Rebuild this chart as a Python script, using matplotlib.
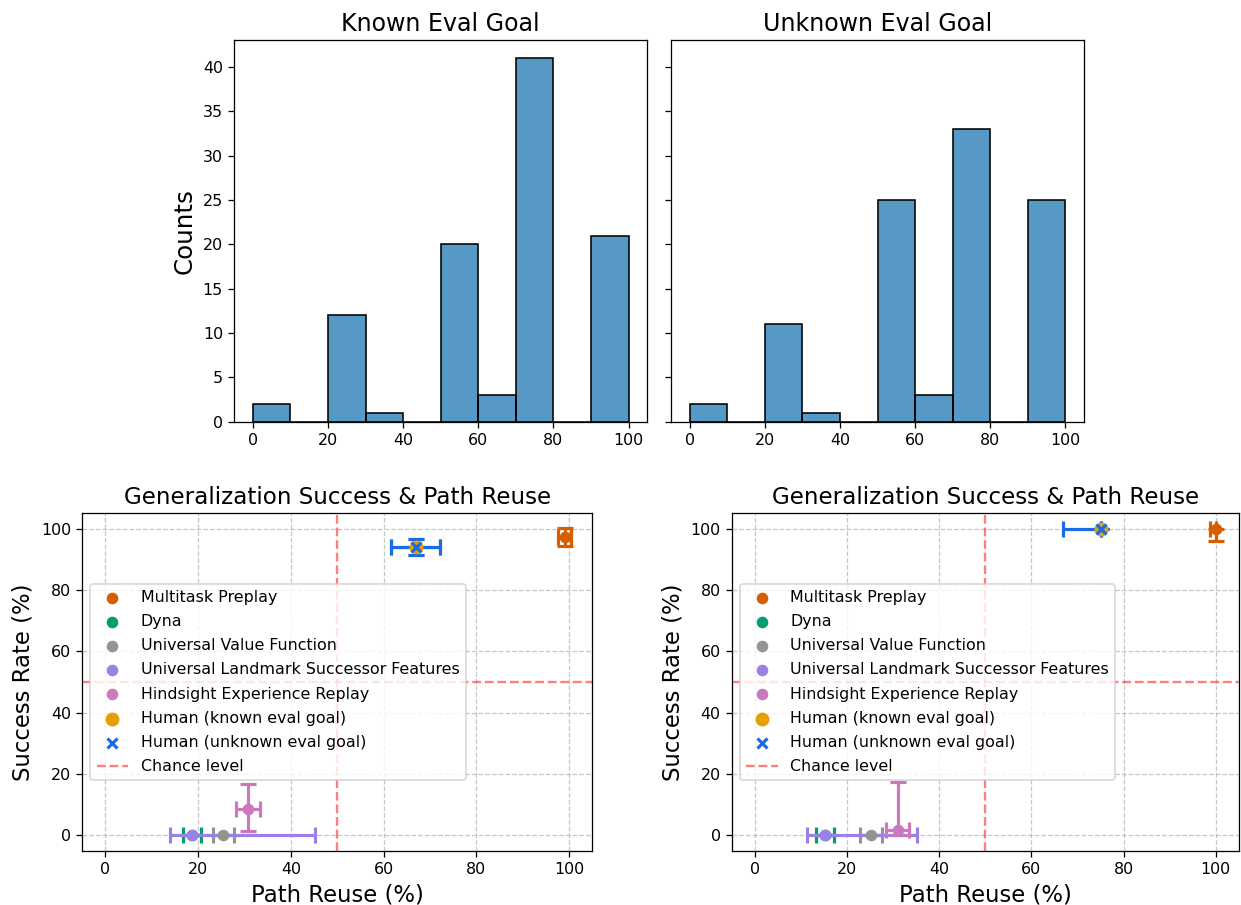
import numpy as np
import matplotlib.pyplot as plt

# histogram of path reuse per participant (bins of 10%)
bin_edges = np.arange(0, 101, 10)
known_counts = [2, 0, 12, 1, 0, 20, 3, 41, 0, 21]
unknown_counts = [2, 0, 11, 1, 0, 25, 3, 33, 0, 25]

# model / human summary: path reuse (x) vs success rate (y)
names = ['Multitask Preplay', 'Dyna', 'Universal Value Function',
         'Universal Landmark Successor Features', 'Hindsight Experience Replay',
         'Human (known eval goal)', 'Human (unknown eval goal)']
colors = ['#d55e00', '#029e73', '#949494', '#9b80e8', '#cc78bc', '#e69f00', '#1a6be8']
markers = ['o', 'o', 'o', 'o', 'o', 'o', 'x']
sizes = [40, 40, 40, 40, 40, 60, 40]

# known eval goal
known_x = [99.0, 18.7, 25.4, 18.7, 30.7, 66.9, 66.9]
known_y = [97.2, 0.0, 0.0, 0.0, 8.5, 94.0, 94.0]
known_xerr_lo = [1.5, 2.0, 2.3, 4.8, 2.6, 5.3, 5.3]
known_xerr_hi = [1.5, 2.0, 2.3, 26.5, 2.6, 5.3, 5.3]
known_yerr_lo = [2.9, 0.0, 0.0, 0.0, 7.1, 2.7, 2.7]
known_yerr_hi = [2.9, 0.0, 0.0, 0.0, 8.1, 2.7, 2.7]

# unknown eval goal
unknown_x = [100.0, 15.2, 25.2, 15.2, 31.0, 75.2, 75.2]
unknown_y = [100.0, 0.0, 0.0, 0.0, 1.6, 100.0, 100.0]
unknown_xerr_lo = [1.3, 2.0, 2.3, 3.8, 2.5, 0.0, 8.4]
unknown_xerr_hi = [0.0, 2.0, 2.3, 20.0, 2.5, 0.0, 0.0]
unknown_yerr_lo = [3.9, 0.0, 0.0, 0.0, 1.6, 0.0, 0.0]
unknown_yerr_hi = [0.0, 0.0, 0.0, 0.0, 15.7, 0.0, 0.0]

fig = plt.figure(figsize=(1241 / 114, 905 / 114), dpi=114)
ax_h1 = fig.add_axes([0.1886, 0.534, 0.333, 0.4218])
ax_h2 = fig.add_axes([0.5407, 0.534, 0.333, 0.4218], sharey=ax_h1)
ax_s1 = fig.add_axes([0.0663, 0.060, 0.411, 0.3728])
ax_s2 = fig.add_axes([0.5896, 0.060, 0.4086, 0.3728])

for ax, counts, title in [(ax_h1, known_counts, 'Known Eval Goal'),
                          (ax_h2, unknown_counts, 'Unknown Eval Goal')]:
    ax.bar(bin_edges[:-1], counts, width=10, align='edge',
           color='#1f77b4', alpha=0.75, linewidth=0)
    ax.bar(bin_edges[:-1], counts, width=10, align='edge',
           fill=False, edgecolor='black', linewidth=1)
    ax.set_title(title, fontsize=15)
    ax.tick_params(labelsize=10)
ax_h1.set_ylabel('Counts', fontsize=15.5)
ax_h2.tick_params(labelleft=False)

for ax, xs, ys, xlo, xhi, ylo, yhi in [
        (ax_s1, known_x, known_y, known_xerr_lo, known_xerr_hi, known_yerr_lo, known_yerr_hi),
        (ax_s2, unknown_x, unknown_y, unknown_xerr_lo, unknown_xerr_hi, unknown_yerr_lo, unknown_yerr_hi)]:
    for i in range(len(names)):
        ax.errorbar(xs[i], ys[i], xerr=[[xlo[i]], [xhi[i]]], yerr=[[ylo[i]], [yhi[i]]],
                    fmt='none', ecolor=colors[i], elinewidth=2, capsize=5, capthick=2, zorder=3)
        if markers[i] == 'x':
            ax.scatter(xs[i], ys[i], color=colors[i], marker='x', s=sizes[i],
                       linewidths=2, label=names[i], zorder=4)
        else:
            ax.scatter(xs[i], ys[i], color=colors[i], marker='o', s=sizes[i],
                       label=names[i], zorder=4)
    ax.axhline(50, color='red', linestyle='--', alpha=0.5, label='Chance level')
    ax.axvline(50, color='red', linestyle='--', alpha=0.5)
    ax.set_xlim(-5, 105)
    ax.set_ylim(-5, 105)
    ax.grid(True, linestyle='--', alpha=0.7)
    ax.set_xlabel('Path Reuse (%)', fontsize=14.4)
    ax.set_ylabel('Success Rate (%)', fontsize=14.4)
    ax.set_title('Generalization Success & Path Reuse', fontsize=14.5)
    ax.tick_params(labelsize=10)
    ax.legend(loc='center left', fontsize=10, labelspacing=0.58)

fig.savefig('out.png', dpi=114)
